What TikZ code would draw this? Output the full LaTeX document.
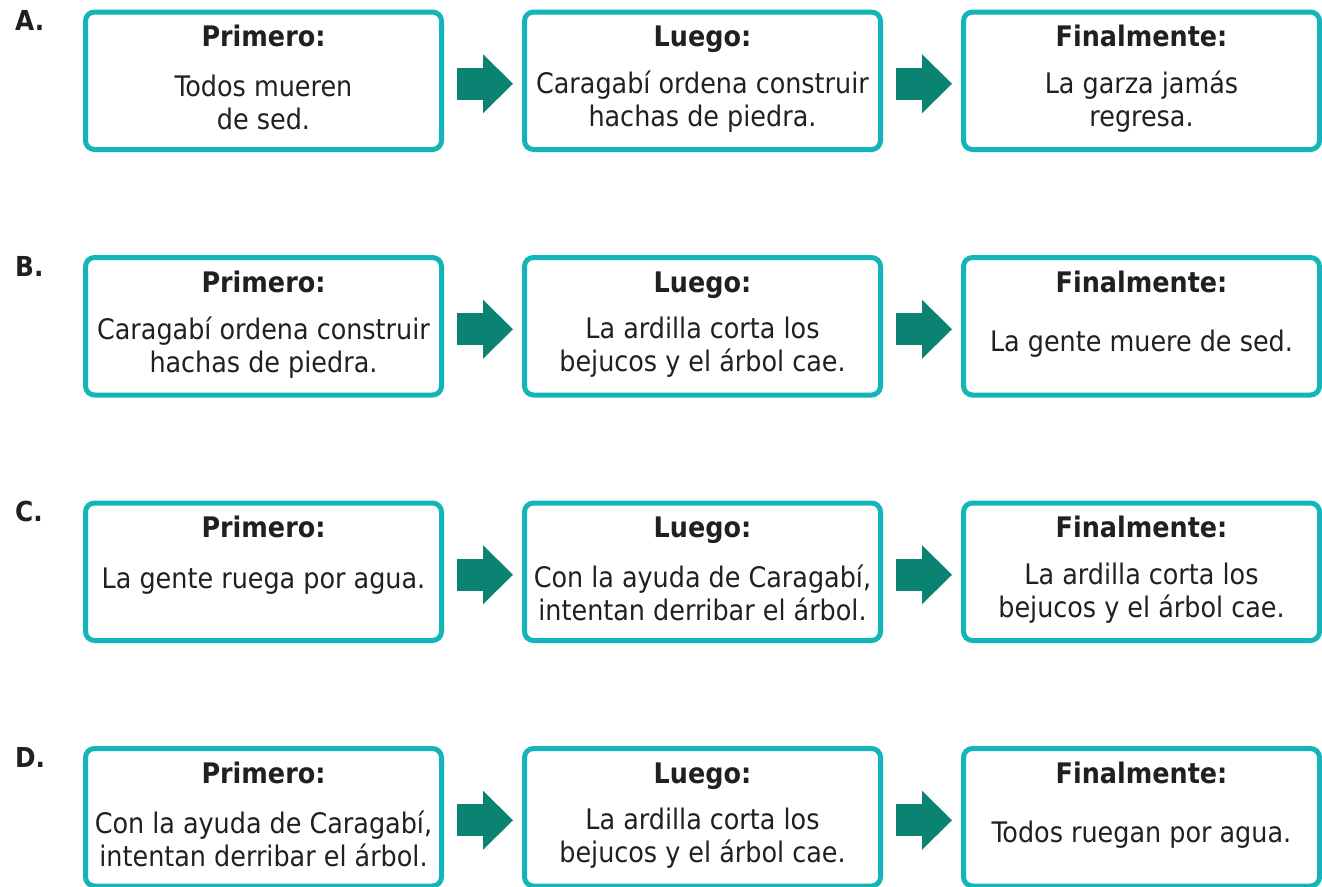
\documentclass[tikz,border=0pt]{standalone}
\usepackage{fontspec}
\setmainfont{DejaVu Sans Condensed}
\usepackage{xcolor}
\usepackage{tikz}
\usetikzlibrary{arrows.meta,positioning}
\definecolor{frame}{HTML}{14B5B9}
\definecolor{arrowc}{HTML}{0B8373}
\definecolor{ink}{HTML}{231F20}

\begin{document}
\begin{tikzpicture}[
  font=\fontsize{28.3}{33}\selectfont,
  text=ink,
  node distance=108pt and 83pt,
  stepbox/.style={draw=frame,line width=5pt,rounded corners=9pt,minimum width=356pt,minimum height=137.5pt,inner sep=0pt,outer sep=0pt},
  head/.style={font=\fontsize{28.3}{33}\selectfont\bfseries,inner sep=0pt,anchor=base},
  txt/.style={align=center,inner sep=0pt},
  tag/.style={font=\fontsize{27.5}{30}\selectfont\bfseries,inner sep=0pt,anchor=base west},
  flow/.style={draw=arrowc,line width=32pt,-{Triangle[length=30pt,width=59pt,line width=0pt]}},
]
\useasboundingbox (0,0) rectangle (1322pt,-886pt);

% --- row A
\node[stepbox] (a1) at (263.5pt,-80.75pt) {};
\node[stepbox,right=of a1] (a2) {};
\node[stepbox,right=of a2] (a3) {};
\node[tag] (la) at ([xshift=-70.5pt,yshift=-18.5pt]a1.north west) {A.};
\node[head] (a1h) at ([yshift=-34.5pt]a1.north) {Primero:};
\node[txt] (a1t) at ([yshift=-90pt]a1.north) {Todos mueren\\de sed.};
\node[head] (a2h) at ([yshift=-34.5pt]a2.north) {Luego:};
\node[txt] (a2t) at ([yshift=-90pt]a2.north) {Caragabí ordena construir\\hachas de piedra.};
\node[head] (a3h) at ([yshift=-34.5pt]a3.north) {Finalmente:};
\node[txt] (a3t) at ([yshift=-90pt]a3.north) {La garza jamás\\regresa.};
\draw[flow] ([xshift=15pt,yshift=-3pt]a1.east) -- ([xshift=-11.5pt,yshift=-3pt]a2.west);
\draw[flow] ([xshift=15pt,yshift=-3pt]a2.east) -- ([xshift=-11.5pt,yshift=-3pt]a3.west);

% --- row B
\node[stepbox,below=of a1] (b1) {};
\node[stepbox,right=of b1] (b2) {};
\node[stepbox,right=of b2] (b3) {};
\node[tag] (lb) at ([xshift=-70.5pt,yshift=-18.5pt]b1.north west) {B.};
\node[head] (b1h) at ([yshift=-34.5pt]b1.north) {Primero:};
\node[txt] (b1t) at ([yshift=-90pt]b1.north) {Caragabí ordena construir\\hachas de piedra.};
\node[head] (b2h) at ([yshift=-34.5pt]b2.north) {Luego:};
\node[txt] (b2t) at ([yshift=-90pt]b2.north) {La ardilla corta los\\bejucos y el árbol cae.};
\node[head] (b3h) at ([yshift=-34.5pt]b3.north) {Finalmente:};
\node[txt] (b3t) at ([yshift=-86pt]b3.north) {La gente muere de sed.};
\draw[flow] ([xshift=15pt,yshift=-3pt]b1.east) -- ([xshift=-11.5pt,yshift=-3pt]b2.west);
\draw[flow] ([xshift=15pt,yshift=-3pt]b2.east) -- ([xshift=-11.5pt,yshift=-3pt]b3.west);

% --- row C
\node[stepbox,below=of b1] (c1) {};
\node[stepbox,right=of c1] (c2) {};
\node[stepbox,right=of c2] (c3) {};
\node[tag] (lc) at ([xshift=-70.5pt,yshift=-18.5pt]c1.north west) {C.};
\node[head] (c1h) at ([yshift=-34.5pt]c1.north) {Primero:};
\node[txt] (c1t) at ([yshift=-78pt]c1.north) {La gente ruega por agua.};
\node[head] (c2h) at ([yshift=-34.5pt]c2.north) {Luego:};
\node[txt] (c2t) at ([yshift=-90pt]c2.north) {Con la ayuda de Caragabí,\\intentan derribar el árbol.};
\node[head] (c3h) at ([yshift=-34.5pt]c3.north) {Finalmente:};
\node[txt] (c3t) at ([yshift=-90pt]c3.north) {La ardilla corta los\\bejucos y el árbol cae.};
\draw[flow] ([xshift=15pt,yshift=-3pt]c1.east) -- ([xshift=-11.5pt,yshift=-3pt]c2.west);
\draw[flow] ([xshift=15pt,yshift=-3pt]c2.east) -- ([xshift=-11.5pt,yshift=-3pt]c3.west);

% --- row D
\node[stepbox,below=of c1] (d1) {};
\node[stepbox,right=of d1] (d2) {};
\node[stepbox,right=of d2] (d3) {};
\node[tag] (ld) at ([xshift=-70.5pt,yshift=-18.5pt]d1.north west) {D.};
\node[head] (d1h) at ([yshift=-34.5pt]d1.north) {Primero:};
\node[txt] (d1t) at ([yshift=-90pt]d1.north) {Con la ayuda de Caragabí,\\intentan derribar el árbol.};
\node[head] (d2h) at ([yshift=-34.5pt]d2.north) {Luego:};
\node[txt] (d2t) at ([yshift=-90pt]d2.north) {La ardilla corta los\\bejucos y el árbol cae.};
\node[head] (d3h) at ([yshift=-34.5pt]d3.north) {Finalmente:};
\node[txt] (d3t) at ([yshift=-86pt]d3.north) {Todos ruegan por agua.};
\draw[flow] ([xshift=15pt,yshift=-3pt]d1.east) -- ([xshift=-11.5pt,yshift=-3pt]d2.west);
\draw[flow] ([xshift=15pt,yshift=-3pt]d2.east) -- ([xshift=-11.5pt,yshift=-3pt]d3.west);
\end{tikzpicture}
\end{document}
